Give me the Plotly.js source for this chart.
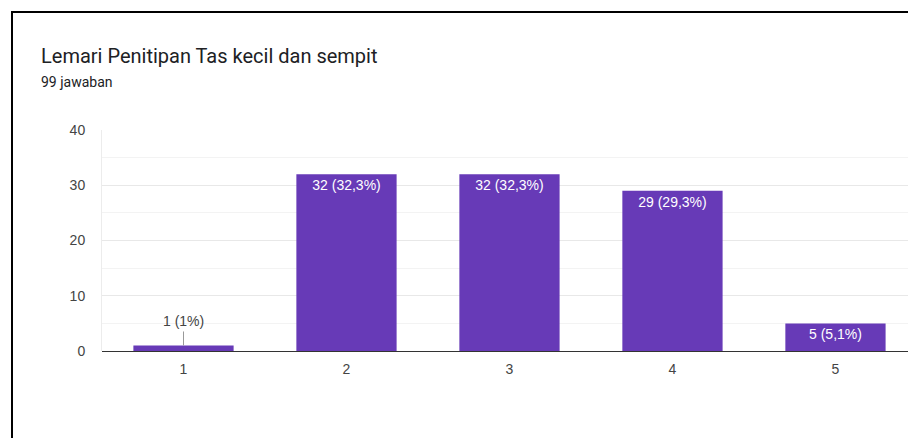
<!DOCTYPE html>
<html>
<head>
<meta charset="utf-8">
<script src="https://cdn.plot.ly/plotly-3.0.1.min.js"></script>
<style>
  html, body { margin: 0; padding: 0; background: #fff; }
  #wrap { position: relative; width: 908px; height: 438px; overflow: hidden; }
  #chart { position: absolute; left: 0; top: 0; width: 908px; height: 438px; }
  #frame { position: absolute; left: 11px; top: 11px; width: 1000px; height: 1000px;
           border-left: 2px solid #000; border-top: 2px solid #000; pointer-events: none; }
</style>
</head>
<body>
<div id="wrap">
  <div id="chart"></div>
  <div id="frame"></div>
</div>
<script>
const categories = ['1', '2', '3', '4', '5'];
const counts = [1, 32, 32, 29, 5];
const labels = ['1 (1%)', '32 (32,3%)', '32 (32,3%)', '29 (29,3%)', '5 (5,1%)'];
const insideLabel = [false, true, true, true, true];
const yTicks = [0, 10, 20, 30, 40];

const barColor = '#673AB7';
const arial = '"Liberation Sans", Arial, sans-serif';
const roboto = 'Roboto, Arial, sans-serif';

const trace = {
  type: 'bar',
  x: categories.map(Number),
  y: counts,
  width: 0.615,
  marker: { color: barColor, line: { width: 0 } },
  text: labels.map((t, i) => insideLabel[i] ? t : ''),
  textposition: 'inside',
  insidetextanchor: 'end',
  textangle: 0,
  insidetextfont: { family: arial, size: 14, color: '#ffffff' },
  hoverinfo: 'none',
  cliponaxis: false
};

const annotations = [];
counts.forEach((v, i) => {
  if (!insideLabel[i]) {
    annotations.push({
      x: Number(categories[i]), y: v, xref: 'x', yref: 'y',
      text: labels[i], showarrow: true, arrowhead: 0, arrowwidth: 1,
      arrowcolor: '#999', ax: 0, ay: -14, standoff: 0,
      font: { family: arial, size: 14, color: '#444' },
      yanchor: 'bottom'
    });
  }
});

annotations.push({
  xref: 'paper', yref: 'paper', x: (39 - 102) / 806, y: (438 - 82 - 87) / 221,
  xanchor: 'left', yanchor: 'middle', showarrow: false,
  text: '99 jawaban',
  font: { family: roboto, size: 14, color: '#202124' }
});

const layout = {
  width: 908, height: 438,
  margin: { l: 102, r: 0, t: 130, b: 87 },
  paper_bgcolor: '#ffffff', plot_bgcolor: '#ffffff',
  font: { family: arial, size: 14, color: '#444' },
  title: {
    text: 'Lemari Penitipan Tas kecil dan sempit',
    xref: 'container', yref: 'container', x: 41 / 908, xanchor: 'left',
    y: 1 - 56 / 438, yanchor: 'middle',
    font: { family: roboto, size: 20, color: '#202124' }
  },
  showlegend: false,
  xaxis: {
    range: [0.5, 5.445],
    tickvals: categories.map(Number),
    ticktext: categories,
    showgrid: false, zeroline: false, showline: false,
    ticks: '', ticklabelstandoff: 8,
    tickfont: { family: arial, size: 14, color: '#444' },
    fixedrange: true
  },
  yaxis: {
    range: [0, 40],
    tickvals: yTicks,
    ticktext: yTicks.map(String),
    showgrid: true, gridcolor: '#e8e8e8', gridwidth: 1,
    minor: { dtick: 5, showgrid: true, gridcolor: '#f3f3f3', gridwidth: 1 },
    zeroline: true, zerolinecolor: '#333333', zerolinewidth: 1,
    showline: true, linecolor: '#ececec', linewidth: 1,
    ticks: '', ticklabelstandoff: 13,
    tickfont: { family: arial, size: 14, color: '#444' },
    fixedrange: true
  },
  annotations: annotations
};

Plotly.newPlot('chart', [trace], layout, { displayModeBar: false, staticPlot: true });
</script>
</body>
</html>
